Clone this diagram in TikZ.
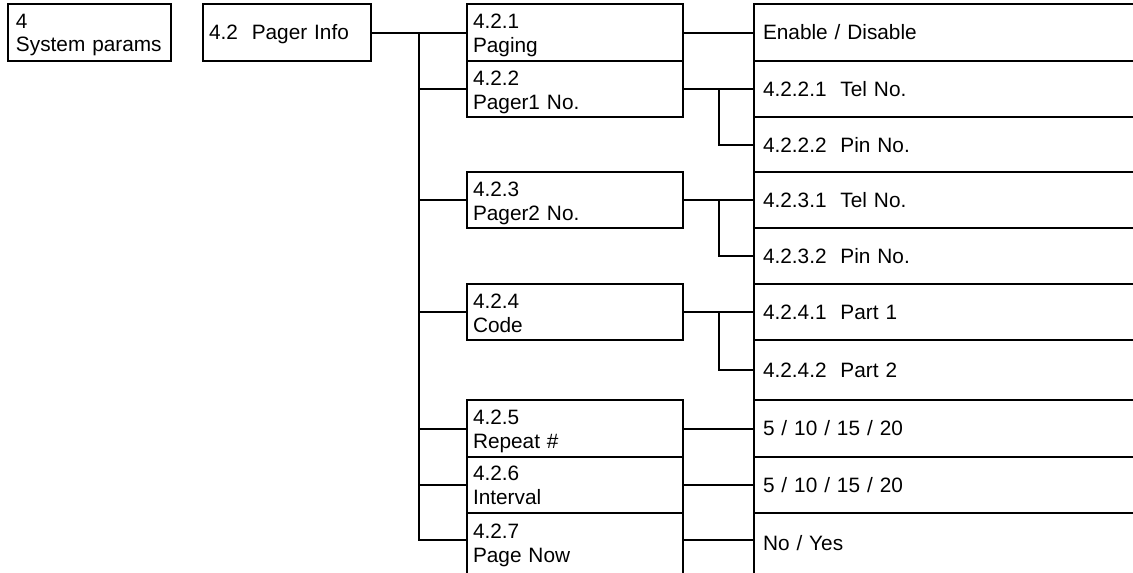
\documentclass[tikz,border=0pt]{standalone}
\usepackage{fontspec}
\setmainfont{Liberation Sans}
\begin{document}
\begin{tikzpicture}[x=1pt,y=-1pt,
  every node/.style={font=\fontsize{20.8}{24.5}\selectfont, inner ysep=0pt, outer sep=0pt, align=left, anchor=north west},
  conn/.style={line width=2pt},
  topbox/.style n args={4}{draw, line width=2pt, inner xsep=#1, text width=#2, text height=#3, text depth=#4},
  midbox/.style 2 args={draw, line width=2pt, inner xsep=6pt, text width=204pt, text height=#1, text depth=#2},
  rowbox/.style 2 args={draw, line width=2pt, inner xsep=9pt, text width=382pt, text height=#1, text depth=#2},
]
\useasboundingbox (0,0) rectangle (1133,573);
\clip (0,0) rectangle (1133,573);

% left boxes
\node[topbox={8pt}{147pt}{24pt}{33pt}, font=\fontsize{20.8}{23}\selectfont] (sp) at (8,4) {4\\System params};
\node[topbox={6pt}{156pt}{35.5pt}{21.5pt}] (pi) at (203,4) {4.2\ \ Pager Info};

% middle boxes
\node[midbox={24pt}{33pt}] (m1) at (467,4) {4.2.1\\Paging};
\node[midbox={24pt}{32pt}] (m2) at (467,61) {4.2.2\\Pager1 No.};
\node[midbox={24pt}{32pt}] (m3) at (467,172) {4.2.3\\Pager2 No.};
\node[midbox={24pt}{32pt}] (m4) at (467,284) {4.2.4\\Code};
\node[midbox={24pt}{33pt}] (m5) at (467,400) {4.2.5\\Repeat \#};
\node[midbox={23pt}{33pt}] (m6) at (467,457) {4.2.6\\Interval};
\node[midbox={25pt}{45pt}] (m7) at (467,513) {4.2.7\\Page Now};

% right column rows
\node[rowbox={35.5pt}{21.5pt}] (r1) at (754,4) {Enable / Disable};
\node[rowbox={35pt}{21pt}] (r2) at (754,61) {4.2.2.1\ \ Tel No.};
\node[rowbox={35pt}{20pt}] (r3) at (754,117) {4.2.2.2\ \ Pin No.};
\node[rowbox={35pt}{21pt}] (r4) at (754,172) {4.2.3.1\ \ Tel No.};
\node[rowbox={35pt}{21pt}] (r5) at (754,228) {4.2.3.2\ \ Pin No.};
\node[rowbox={35pt}{21pt}] (r6) at (754,284) {4.2.4.1\ \ Part 1};
\node[rowbox={37.5pt}{22.5pt}] (r7) at (754,340) {4.2.4.2\ \ Part 2};
\node[rowbox={35.5pt}{21.5pt}] (r8) at (754,400) {5 / 10 / 15 / 20};
\node[rowbox={35pt}{21pt}] (r9) at (754,457) {5 / 10 / 15 / 20};
\node[rowbox={37pt}{33pt}] (r10) at (754,513) {No / Yes};

% connection points
\coordinate (bus) at (419,0);
\coordinate (sb) at (718.5,0);
\coordinate (m7c) at ([yshift=-27pt]m7.north west);
\coordinate (m7e) at ([yshift=-27pt]m7.north east);
\coordinate (r10c) at ([yshift=-27pt]r10.north west);

% main bus
\draw[conn] (pi.east) -- (m1.west);
\draw[conn] (bus |- m1.west) -- (bus |- m7c) -- (m7c);
\draw[conn] (bus |- m2.west) -- (m2.west);
\draw[conn] (bus |- m3.west) -- (m3.west);
\draw[conn] (bus |- m4.west) -- (m4.west);
\draw[conn] (bus |- m5.west) -- (m5.west);
\draw[conn] (bus |- m6.west) -- (m6.west);

% right connectors
\draw[conn] (m1.east) -- (r1.west);
\draw[conn] (m2.east) -- (r2.west);
\draw[conn] (sb |- r2.west) |- (r3.west);
\draw[conn] (m3.east) -- (r4.west);
\draw[conn] (sb |- r4.west) |- (r5.west);
\draw[conn] (m4.east) -- (r6.west);
\draw[conn] (sb |- r6.west) |- (r7.west);
\draw[conn] (m5.east) -- (r8.west);
\draw[conn] (m6.east) -- (r9.west);
\draw[conn] (m7e) -- (r10c);
\end{tikzpicture}
\end{document}
